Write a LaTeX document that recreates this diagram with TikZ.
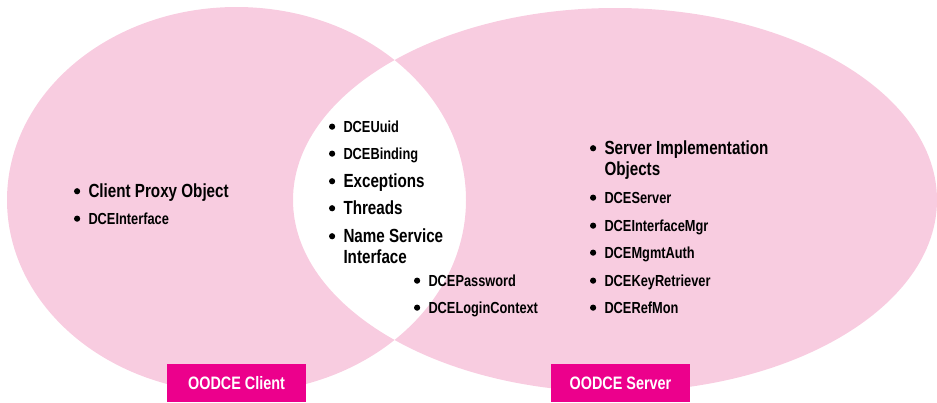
\documentclass[tikz,border=0pt]{standalone}
\usepackage{fontspec}
\setmainfont{Liberation Sans}[FakeStretch=0.8]
\usetikzlibrary{positioning}
\definecolor{vennpink}{RGB}{248,204,224}
\definecolor{tagmagenta}{RGB}{236,0,140}
\newcommand\bul{\makebox[14.5pt][l]{\raisebox{.14em}{\tikz\fill (0,0) circle (3.1pt);}}}
\newcommand\nobul{\makebox[14.5pt]{}}

\begin{document}
\begin{tikzpicture}[
  x=1pt, y=-1pt,
  entry/.style={anchor=base west, inner sep=0pt, align=left, font=\bfseries\fontsize{16}{18}\selectfont},
  bigentry/.style={entry, font=\bfseries\fontsize{19}{21}\selectfont},
  tag/.style={rectangle, fill=tagmagenta, text=white, minimum width=139pt, minimum height=38pt,
              inner sep=0pt, anchor=south, font=\bfseries\fontsize{18}{20}\selectfont}
]
\useasboundingbox (0,0) rectangle (937,402);
\fill[vennpink, even odd rule] (236.5,200) ellipse [x radius=229.5, y radius=193]
  (615,200) ellipse [x radius=322, y radius=192];

\node[bigentry] (proxy) at (73.8,197) {\bul Client Proxy Object};
\node[below=27pt of proxy.base west, entry] (iface) {\bul DCEInterface};

\node[entry] (uuid) at (328.8,132) {\bul DCEUuid};
\node[below=27pt of uuid.base west, entry] (binding) {\bul DCEBinding};
\node[below=28pt of binding.base west, bigentry] (exc) {\bul Exceptions};
\node[below=27pt of exc.base west, bigentry] (threads) {\bul Threads};
\node[below=49pt of threads.base west, bigentry] (names) {\bul Name Service\\\nobul Interface};
\node[entry] (passwd) at (413.8,286) {\bul DCEPassword};
\node[below=27pt of passwd.base west, entry] (login) {\bul DCELoginContext};

\node[bigentry] (impl) at (589.8,175) {\bul Server Implementation\\\nobul Objects};
\node[below=28pt of impl.base west, entry] (server) {\bul DCEServer};
\node[below=28pt of server.base west, entry] (ifmgr) {\bul DCEInterfaceMgr};
\node[below=27pt of ifmgr.base west, entry] (mgmt) {\bul DCEMgmtAuth};
\node[below=28pt of mgmt.base west, entry] (keyret) {\bul DCEKeyRetriever};
\node[below=27pt of keyret.base west, entry] (refmon) {\bul DCERefMon};

\node[tag] (client) at (236.5,402) {OODCE Client};
\node[tag] (srv) at (620.5,402) {OODCE Server};
\end{tikzpicture}
\end{document}
